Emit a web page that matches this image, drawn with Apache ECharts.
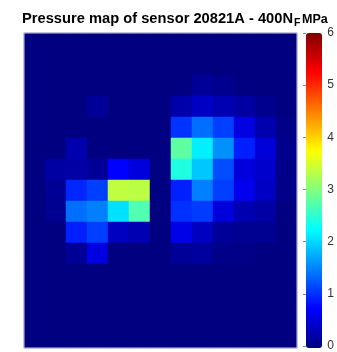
<!DOCTYPE html>
<html>
<head>
<meta charset="utf-8">
<style>
  html, body { margin: 0; padding: 0; background: #fff; }
  #chart { width: 337px; height: 352px; }
</style>
<script src="https://cdn.jsdelivr.net/npm/echarts@6/dist/echarts.min.js"></script>
</head>
<body>
<div id="chart"></div>
<script>
  // sensor cells: 13 columns x 15 rows, row 0 is the top of the map (MPa)
  const colLabels = ['1', '2', '3', '4', '5', '6', '7', '8', '9', '10', '11', '12', '13']
  const rowLabels = ['1', '2', '3', '4', '5', '6', '7', '8', '9', '10', '11', '12', '13', '14', '15']
  const pressure = [
    [0, 0, 0, 0, 0, 0, 0, 0, 0, 0, 0, 0, 0],
    [0, 0, 0, 0, 0, 0, 0, 0, 0, 0, 0, 0, 0],
    [0, 0, 0, 0, 0, 0, 0, 0, 0.15, 0.08, 0, 0, 0],
    [0, 0, 0, 0.15, 0, 0, 0, 0.25, 0.4, 0.3, 0.2, 0.08, 0],
    [0, 0, 0, 0, 0, 0, 0, 1.05, 1.4, 1.12, 0.57, 0.28, 0.05],
    [0, 0, 0.28, 0, 0, 0, 0, 2.8, 2.16, 1.6, 0.93, 0.52, 0.08],
    [0, 0.2, 0.22, 0.15, 0.75, 0.55, 0, 2.43, 1.92, 1.2, 0.55, 0.45, 0.05],
    [0, 0.12, 0.97, 1.12, 3.38, 3.35, 0, 0.93, 1.5, 1.12, 0.65, 0.4, 0.05],
    [0, 0.1, 1.4, 1.5, 2.07, 2.72, 0, 1.03, 1.1, 0.55, 0.3, 0.22, 0],
    [0, 0, 0.93, 1.12, 0.38, 0.3, 0, 0.6, 0.38, 0.15, 0.1, 0.1, 0],
    [0, 0, 0.12, 0.57, 0, 0, 0, 0.15, 0.18, 0.05, 0.05, 0, 0],
    [0, 0, 0, 0, 0, 0, 0, 0, 0, 0, 0, 0, 0],
    [0, 0, 0, 0, 0, 0, 0, 0, 0, 0, 0, 0, 0],
    [0, 0, 0, 0, 0, 0, 0, 0, 0, 0, 0, 0, 0],
    [0, 0, 0, 0, 0, 0, 0, 0, 0, 0, 0, 0, 0],
  ]
  const scaleMin = 0
  const scaleMax = 6
  const scaleTicks = [0, 1, 2, 3, 4, 5, 6]

  // matlab jet, evenly spaced stops
  const jet = ['#000080', '#0000ff', '#0080ff', '#00ffff', '#80ff80', '#ffff00', '#ff8000', '#ff0000', '#800000']

  const cells = []
  pressure.forEach((row, r) => {
    row.forEach((v, c) => cells.push([c, r, v]))
  })

  // whole-pixel cells, otherwise the canvas shows seams between them
  const cell = 21
  const plotW = cell * colLabels.length
  const plotH = cell * rowLabels.length

  const font = 'Arial, "Liberation Sans", sans-serif'
  const chart = echarts.init(document.getElementById('chart'))

  chart.setOption({
    animation: false,
    title: [
      {
        text: '{m|Pressure map of sensor 20821A - 400N}{s|F}',
        left: 22,
        top: 11,
        padding: 0,
        textStyle: {
          rich: {
            m: { fontFamily: font, fontSize: 14.7, fontWeight: 'bold', color: '#000', lineHeight: 17, verticalAlign: 'top' },
            s: { fontFamily: font, fontSize: 10.5, fontWeight: 'bold', color: '#000', lineHeight: 17, verticalAlign: 'top', padding: [7, 0, 0, 1] },
          },
        },
      },
      {
        text: 'MPa',
        left: 302,
        top: 13,
        padding: 0,
        textStyle: { fontFamily: font, fontSize: 12.5, fontWeight: 'bold', color: '#000' },
      },
    ],
    grid: [
      { left: 24, top: 33, width: plotW, height: plotH, show: true, borderColor: '#c8c8e0', borderWidth: 1, z: 5 },
      { left: 306, top: 33, width: 16, height: plotH },
    ],
    xAxis: [
      { type: 'category', data: colLabels, gridIndex: 0, show: false },
      { type: 'value', gridIndex: 1, show: false, min: 0, max: 1 },
    ],
    yAxis: [
      { type: 'category', data: rowLabels, gridIndex: 0, inverse: true, show: false },
      {
        type: 'value',
        gridIndex: 1,
        position: 'right',
        min: scaleMin,
        max: scaleMax,
        interval: 1,
        axisLine: { show: false },
        axisTick: { show: true, inside: true, length: 3, lineStyle: { color: '#888' } },
        splitLine: { show: false },
        axisLabel: {
          margin: 9,
          fontFamily: font,
          fontSize: 12,
          color: '#333',
          formatter: (v) => (scaleTicks.includes(v) ? String(v) : ''),
        },
      },
    ],
    visualMap: {
      type: 'continuous',
      min: scaleMin,
      max: scaleMax,
      seriesIndex: 0,
      calculable: false,
      hoverLink: false,
      left: 306,
      top: 33,
      padding: 0,
      itemWidth: 16,
      itemHeight: plotH,
      text: null,
      inRange: { color: jet },
    },
    series: [
      {
        type: 'heatmap',
        xAxisIndex: 0,
        yAxisIndex: 0,
        data: cells,
        itemStyle: { borderWidth: 0 },
        emphasis: { disabled: true },
        progressive: 0,
      },
    ],
  })
</script>
</body>
</html>
